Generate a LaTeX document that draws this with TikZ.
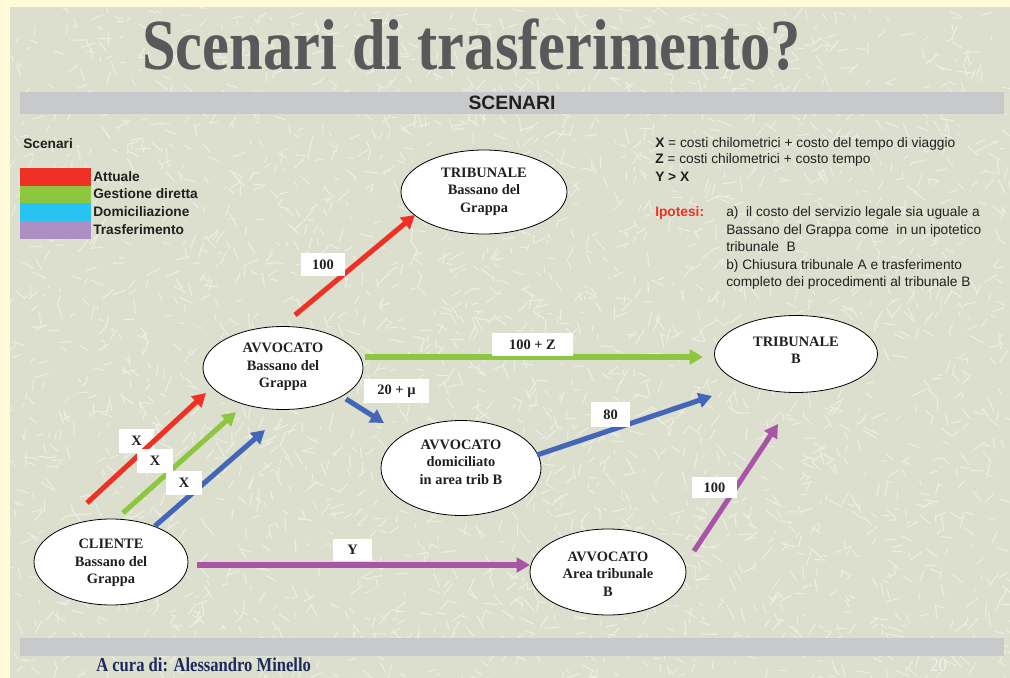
\documentclass[tikz,border=0pt]{standalone}
\usepackage{fontspec}
\setmainfont{Liberation Serif}
\setsansfont{Liberation Sans}
\usetikzlibrary{arrows.meta,shapes.geometric}
\definecolor{bgyellow}{HTML}{FFFBD8}
\definecolor{bgtex}{HTML}{DCDFCD}
\definecolor{scrib}{HTML}{ECEEE2}
\definecolor{bargray}{HTML}{C8C9CB}
\definecolor{titlegray}{HTML}{58595B}
\definecolor{cred}{HTML}{EE3124}
\definecolor{cgreen}{HTML}{8DC63F}
\definecolor{ccyan}{HTML}{27C4F2}
\definecolor{clilac}{HTML}{AD8FC4}
\definecolor{cblue}{HTML}{4466B8}
\definecolor{cpurple}{HTML}{A855A8}
\definecolor{navy}{HTML}{1F2A5C}
\definecolor{txt}{HTML}{231F20}
\definecolor{faint}{HTML}{F2F3EA}
\newdimen\pxu \pxu=0.75pt
\begin{document}
\begin{tikzpicture}[x=0.75pt,y=-0.75pt,
  ell/.style args={#1/#2}{ellipse, draw=black, line width=0.6pt, fill=white, inner sep=0pt,
     minimum width=#1*\pxu, minimum height=#2*\pxu},
  ntext/.style={font=\rmfamily\bfseries\fontsize{10.8}{13.1}\selectfont, text=txt, align=center, inner sep=0pt},
  lblbox/.style args={#1/#2}{fill=white, inner sep=0pt, minimum width=#1*\pxu, minimum height=#2*\pxu,
     font=\rmfamily\bfseries\fontsize{10.8}{12}\selectfont, text=txt},
  arr/.style={line width=3.8pt, -{Triangle[length=10pt,width=11pt]}},
  sans/.style={font=\sffamily\fontsize{10.3}{12}\selectfont, text=txt, inner sep=0pt},
  sansb/.style={font=\sffamily\bfseries\fontsize{10.3}{12}\selectfont, text=txt, inner sep=0pt}
]
\useasboundingbox (0,0) rectangle (1010,678);
% background
\fill[bgyellow] (0,0) rectangle (1010,678);
\fill[bgtex] (10,7) rectangle (1010,678);
\begin{scope}
\clip (10,7) rectangle (1010,678);
\pgfmathsetseed{7}
\foreach \i in {1,...,3200}{
  \pgfmathsetmacro{\sx}{10+rnd*1000}
  \pgfmathsetmacro{\sy}{7+rnd*671}
  \pgfmathsetmacro{\sa}{rnd*180}
  \pgfmathsetmacro{\sl}{4+rnd*12}
  \draw[scrib, line width=0.8pt] (\sx,\sy) -- ++(\sa:\sl);
}
\end{scope}

% title and bars
\node[anchor=base, inner sep=0pt, text=titlegray, font=\rmfamily\bfseries\fontsize{54}{60}\selectfont] (title) at (471.5,69) {\scalebox{0.84}[1]{Scenari di trasferimento?}};
\fill[bargray] (20,92) rectangle (1004,114);
\node[inner sep=0pt, text=txt, font=\sffamily\bfseries\fontsize{14.5}{16}\selectfont] (bartitle) at (512,103) {SCENARI};
\fill[bargray] (20,638) rectangle (1004,656);
\node[anchor=base west, inner sep=0pt, text=navy, font=\rmfamily\bfseries\fontsize{14.8}{16}\selectfont] (footer) at (96,671.5) {\scalebox{0.84}[1]{A cura di: Alessandro Minello}};
\node[anchor=base west, inner sep=0pt, text=faint, font=\rmfamily\fontsize{14.8}{16}\selectfont] (pagenum) at (930,671.5) {\scalebox{0.84}[1]{20}};

% legend
\node[sansb, anchor=base west] (legtitle) at (23,148) {Scenari};
\fill[cred] (20,168) rectangle (91,186);
\fill[cgreen] (20,186) rectangle (91,203);
\fill[ccyan] (20,203) rectangle (91,221);
\fill[clilac] (20,221) rectangle (91,239);
\node[sansb, anchor=base west] (leg1) at (93,181.5) {Attuale};
\node[sansb, anchor=base west] (leg2) at (93,198.5) {Gestione diretta};
\node[sansb, anchor=base west] (leg3) at (93,216.5) {Domiciliazione};
\node[sansb, anchor=base west] (leg4) at (93,234) {Trasferimento};

% definitions
\node[sans, anchor=base west] (defx) at (655,147.5) {\textbf{X} = costi chilometrici + costo del tempo di viaggio};
\node[sans, anchor=base west] (defz) at (655,163.5) {\textbf{Z} = costi chilometrici + costo tempo};
\node[sansb, anchor=base west] (defy) at (655,181.5) {Y > X};
\node[sansb, anchor=base west, text=cred] (ipo) at (655,216.5) {Ipotesi:};
\node[sans, anchor=base west] (ipo1) at (726,216.5) {a)\ \ il costo del servizio legale sia uguale a};
\node[sans, anchor=base west] (ipo2) at (726,234) {Bassano del Grappa come\ \ in un ipotetico};
\node[sans, anchor=base west] (ipo3) at (726,251.5) {tribunale\ \ B};
\node[sans, anchor=base west] (ipo4) at (726,269) {b) Chiusura tribunale A e trasferimento};
\node[sans, anchor=base west] (ipo5) at (726,286.5) {completo dei procedimenti al tribunale B};

% ellipses
\node[ell=166/84] (tribA) at (484,192) {};
\node[ell=160/83] (avvA) at (283,368) {};
\node[ell=160/95] (avvD) at (461,468) {};
\node[ell=163/77] (tribB) at (796,354) {};
\node[ell=154/86] (cli) at (111,562) {};
\node[ell=156/86] (avvB) at (608,572) {};
\node[ntext] (tribAt) at (484,191.5) {TRIBUNALE\\Bassano del\\Grappa};
\node[ntext] (avvAt) at (283,367) {AVVOCATO\\Bassano del\\Grappa};
\node[ntext] (avvDt) at (461,462) {AVVOCATO\\domiciliato\\in area trib B};
\node[ntext] (tribBt) at (796,350) {TRIBUNALE\\B};
\node[ntext] (clit) at (111,563) {CLIENTE\\Bassano del\\Grappa};
\node[ntext] (avvBt) at (608,574) {AVVOCATO\\Area tribunale\\B};

% arrow end points
\coordinate (r1s) at (87,503);  \coordinate (r1e) at (206,393);
\coordinate (g1s) at (123,513); \coordinate (g1e) at (236,412);
\coordinate (b1s) at (155,526); \coordinate (b1e) at (265,430);
\coordinate (r2s) at (295,315); \coordinate (r2e) at (415,215);
\coordinate (g2s) at (365,357); \coordinate (g2e) at (703,357);
\coordinate (b2s) at (346,399); \coordinate (b2e) at (384,423);
\coordinate (b3s) at (537,455); \coordinate (b3e) at (712,396);
\coordinate (p1s) at (197,565); \coordinate (p1e) at (530,565);
\coordinate (p2s) at (694,551); \coordinate (p2e) at (778,424);

\node[lblbox=35/24] (lx1) at (136.5,441) {X};

\draw[arr, cred] (r1s) -- (r1e);
\draw[arr, cgreen] (g1s) -- (g1e);
\draw[arr, cblue] (b1s) -- (b1e);
\draw[arr, cred] (r2s) -- (r2e);
\draw[arr, cgreen] (g2s) -- (g2e);
\draw[arr, cblue] (b2s) -- (b2e);
\draw[arr, cblue] (b3s) -- (b3e);
\draw[arr, cpurple] (p1s) -- (p1e);
\draw[arr, cpurple] (p2s) -- (p2e);

\node[lblbox=36/24] (lx2) at (155,461) {X};
\node[lblbox=36/24] (lx3) at (184,483) {X};
\node[lblbox=44/23] (l100a) at (323,264.5) {100};
\node[lblbox=81/23] (l100z) at (532.5,344.5) {100 + Z};
\node[lblbox=65/24] (l20mu) at (396.5,391) {20 + µ};
\node[lblbox=39/25] (l80) at (610.5,414.5) {80};
\node[lblbox=39/22] (ly) at (352.5,550) {Y};
\node[lblbox=45/21] (l100b) at (714.5,487.5) {100};
\end{tikzpicture}
\end{document}
